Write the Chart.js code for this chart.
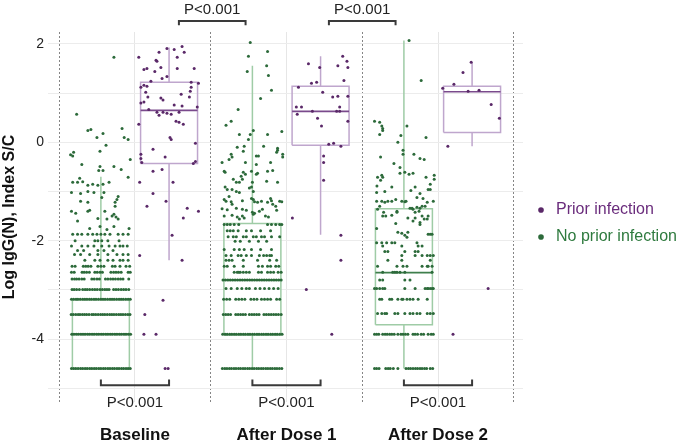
<!DOCTYPE html>
<html><head><meta charset="utf-8">
<script src="https://cdn.jsdelivr.net/npm/chart.js@4/dist/chart.umd.min.js"></script>
<style>html,body{margin:0;padding:0;background:#fff}canvas{display:block}</style>
</head><body>
<canvas id="c" width="681" height="441"></canvas>
<script>
// ---------- categories / ticks ----------
const groups = ['Baseline', 'After Dose 1', 'After Dose 2'];
const groupX = [1, 2, 3];
const groupBounds = [0.5, 1.5, 2.5, 3.5];
const yTickValues = [-5, -4, -3, -2, -1, 0, 1, 2];
const seriesNames = ['Prior infection', 'No prior infection'];

// ---------- box statistics (log IgG(N)) ----------
const noPriorLow    = [-4.6, -4.6, -4.6];
const noPriorQ1     = [-4.6, -3.92, -3.71];
const noPriorMedian = [-3.9, -2.8, -2.65];
const noPriorQ3     = [-3.2, -1.65, -1.35];
const noPriorHigh   = [-0.7, 1.56, 2.07];

const priorLow    = [-2.4, -1.88, -0.08];
const priorQ1     = [-0.43, -0.06, 0.2];
const priorMedian = [0.65, 0.63, 1.03];
const priorQ3     = [1.22, 1.14, 1.14];
const priorHigh   = [1.93, 1.75, 1.63];

// ---------- p-value comparisons ----------
const pTopPairs = [[1.29, 1.73], [2.28, 2.72]];
const pTopLabels = ['P<0.001', 'P<0.001'];
const pBottomPairs = [[0.775, 1.225], [1.775, 2.225], [2.775, 3.225]];
const pBottomLabels = ['P<0.001', 'P<0.001', 'P<0.001'];

// ---------- individual samples: [jitter (-1..1), value] ----------
const noPriorBaselinePts = [[0.43,1.73],[-0.8,0.57],[-0.43,0.24],[-0.33,0.26],[0.07,0.18],[-0.13,0.1],[0.7,0.28],[0.77,0.1],[0.9,0.06],[0.17,-0.06],[-0.9,-0.2],[-0.93,-0.28],[-1.0,-0.25],[-0.03,-0.18],[-0.63,-0.45],[-0.03,-0.49],[-0.07,-0.57],[0.07,-0.57],[0.43,-0.49],[0.67,-0.55],[0.97,-0.35],[0.9,-0.71],[-0.7,-0.73],[-0.93,-0.81],[-0.77,-0.81],[-0.6,-0.8],[-0.43,-0.87],[-0.27,-0.85],[-0.1,-0.87],[0.07,-0.85],[0.27,-0.81],[-0.97,-1.02],[-0.67,-1.04],[-0.43,-1.0],[-0.23,-1.02],[0.03,-1.12],[0.1,-1.02],[0.57,-1.1],[0.47,-1.22],[0.47,-1.3],[0.53,-1.16],[-0.67,-1.2],[-0.43,-1.22],[-0.97,-1.4],[-0.83,-1.44],[-0.43,-1.4],[-0.37,-1.38],[-0.1,-1.55],[0.13,-1.4],[0.37,-1.5],[0.57,-1.56],[0.43,-1.46],[0.5,-1.52],[-0.77,-1.6],[0.2,-1.56],[-0.37,-1.75],[-0.03,-1.71],[0.2,-1.77],[0.43,-1.71],[0.93,-1.75]];
const noPriorBaselineRows = [
  [-1.87, [-0.93,-0.77,-0.63,-0.43,-0.27,-0.13,0,0.13,0.3,0.57,0.73,0.9]],
  [-2.0,  [-0.85,-0.2,-0.1,0.03,0.23,0.6]],
  [-2.11, [-0.97,-0.63,-0.43,-0.23,0.03,0.27,0.47,0.63,0.73,0.87]],
  [-2.2,  [-0.77,-0.57,-0.1,0.1,0.4]],
  [-2.28, [-0.87,-0.67,-0.37,-0.1,0.23,0.53,0.73,0.9]],
  [-2.4,  [-0.53,-0.2,-0.03,0.23,0.4,0.63,0.73,0.9]],
  [-2.52, [-0.95,-0.85,-0.58,-0.5,-0.42,-0.33,-0.1,0,0.1,0.38,0.47,0.63,0.83,0.95]],
  [-2.64, [-0.97,-0.88,-0.62,-0.55,-0.47,-0.38,-0.2,-0.12,-0.03,0.05,0.33,0.42,0.5,0.58,0.67,0.9,0.97]],
  [-2.78, [-0.95,-0.87,-0.8,-0.72,-0.63,-0.55,-0.3,-0.22,-0.13,-0.05,0.15,0.23,0.32,0.4,0.48,0.57,0.65,0.73,0.92]],
  [-2.99, [-0.95,-0.88,-0.8,-0.71,-0.6,-0.52,-0.45,-0.37,-0.28,-0.2,-0.12,-0.03,0.05,0.13,0.2,0.27,0.42,0.5,0.58,0.67,0.75,0.83,0.92]],
  [-3.19, [-0.97,-0.9,-0.82,-0.76,-0.68,-0.6,-0.53,-0.46,-0.38,-0.31,-0.23,-0.16,-0.08,0,0.07,0.14,0.22,0.3,0.37,0.44,0.52,0.6,0.67,0.74,0.82,0.9,0.97]],
  [-3.5,  [-0.98,-0.91,-0.83,-0.75,-0.69,-0.61,-0.54,-0.47,-0.39,-0.3,-0.24,-0.17,-0.09,-0.01,0.06,0.13,0.21,0.29,0.36,0.43,0.51,0.59,0.66,0.73,0.81,0.89,0.96]],
  [-3.9,  [-0.96,-0.89,-0.81,-0.74,-0.66,-0.59,-0.52,-0.44,-0.37,-0.29,-0.22,-0.14,-0.07,0.01,0.08,0.16,0.23,0.31,0.38,0.46,0.53,0.61,0.68,0.76,0.83,0.91,0.98]],
  [-4.6,  [-0.97,-0.9,-0.83,-0.75,-0.67,-0.6,-0.52,-0.45,-0.37,-0.3,-0.22,-0.15,-0.07,0,0.08,0.15,0.23,0.3,0.38,0.45,0.53,0.6,0.68,0.75,0.83,0.9,0.97]]
];

const noPriorDose1Pts = [[-0.07,2.03],[-0.13,1.75],[0.5,1.85],[-0.17,1.44],[0.47,1.56],[0.53,1.36],[0.63,1.06],[0.27,0.89],[-0.47,0.67],[-0.87,0.35],[-0.7,0.43],[0.03,0.24],[-0.43,0.16],[0.5,0.16],[0.97,0.22],[-0.07,0.16],[-0.13,0.06],[-0.5,-0.1],[-0.27,-0.08],[-0.3,-0.18],[0.37,-0.08],[0.83,-0.12],[0.83,-0.16],[0.8,-0.2],[1.0,-0.24],[1.0,-0.3],[-0.7,-0.24],[-0.67,-0.3],[-0.77,-0.35],[-1.0,-0.41],[0.13,-0.28],[0.2,-0.28],[-0.23,-0.41],[0.6,-0.41],[0.13,-0.45],[-0.93,-0.59],[-0.9,-0.61],[-0.3,-0.61],[-0.23,-0.65],[-0.37,-0.69],[-0.33,-0.75],[-0.43,-0.81],[-0.03,-0.59],[0.13,-0.65],[0.17,-0.63],[0.5,-0.59],[0.67,-0.57],[-0.63,-0.75],[-0.53,-0.81],[0,-0.81],[-0.03,-0.91],[-0.1,-0.93],[0.03,-1.0],[-0.9,-0.91],[-0.83,-0.96],[-0.67,-0.96],[-0.53,-1.0],[-0.43,-1.02],[0.47,-0.79],[0.83,-0.81],[-0.93,-1.16],[-0.87,-1.2],[-0.77,-1.1],[-0.03,-1.14],[0.03,-1.16],[0.6,-1.14],[0.5,-1.22],[0.67,-1.26],[0.77,-1.3],[-0.67,-1.26],[-0.33,-1.36],[0.17,-1.22],[0.23,-1.4],[0.9,-1.2],[-0.5,-1.52],[-0.27,-1.54],[0,-1.42],[0.03,-1.46],[0.43,-1.5],[0.53,-1.52],[-0.7,-1.21],[-0.33,-1.19],[0.07,-1.21],[0.3,-1.2],[0.63,-1.19],[0.97,-1.21],[-1.0,-1.35],[-0.83,-1.37],[-0.53,-1.34],[-0.2,-1.38],[0.07,-1.44],[0.33,-1.36],[0.8,-1.38],[-0.93,-1.5],[-0.67,-1.48],[-0.43,-1.56],[-0.33,-1.5]];
const noPriorDose1Rows = [
  [-1.67, [-0.93,-0.83,-0.73,-0.6,-0.45,0.5,0.63,0.77,0.9,0.97]],
  [-1.8,  [-0.83,-0.73,-0.63,-0.47,-0.2,-0.03,0.27,0.6]],
  [-1.92, [-0.8,-0.63,-0.53,-0.3,-0.2,0.03,0.13,0.3,0.4,0.63,0.9]],
  [-2.01, [-0.57,-0.4,-0.1,0.2,0.47]],
  [-2.18, [-0.93,-0.6,-0.43,-0.27,-0.03,0.27,0.63]],
  [-2.3,  [-0.87,-0.7,-0.47,-0.37,-0.2,-0.03,0.23,0.37,0.47,0.57,0.63]],
  [-2.4,  [-0.87,-0.77,-0.67,-0.3,0.17,0.57,0.8]],
  [-2.52, [-0.93,-0.83,-0.6,-0.3,0.2,0.33,0.5,0.6,0.77,0.87]],
  [-2.64, [-0.6,-0.5,-0.45,-0.4,-0.3,-0.2,-0.1,0.2,0.3,0.5,0.6,0.7,0.85,0.95]],
  [-2.8,  [-0.97,-0.89,-0.81,-0.73,-0.65,-0.57,-0.49,-0.41,-0.33,-0.25,-0.17,-0.09,-0.01,0.07,0.15,0.23,0.31,0.39,0.47,0.55,0.63,0.71,0.79,0.87,0.95]],
  [-2.97, [-0.87,-0.7,-0.5,-0.35,-0.2,-0.1,0.1,0.25,0.4,0.55,0.7,0.85]],
  [-3.19, [-0.95,-0.85,-0.75,-0.55,-0.45,-0.35,-0.25,-0.05,0.05,0.15,0.3,0.4,0.5,0.6,0.8,0.9]],
  [-3.5,  [-0.96,-0.88,-0.8,-0.72,-0.55,-0.47,-0.39,-0.31,-0.23,-0.1,-0.02,0.06,0.14,0.22,0.38,0.46,0.54,0.62,0.7,0.78,0.86,0.95]],
  [-3.9,  [-0.98,-0.9,-0.83,-0.75,-0.68,-0.6,-0.53,-0.45,-0.38,-0.3,-0.23,-0.15,-0.08,0,0.07,0.15,0.22,0.3,0.37,0.45,0.52,0.6,0.67,0.75,0.82,0.9,0.98]],
  [-4.6,  [-0.99,-0.91,-0.84,-0.76,-0.69,-0.61,-0.54,-0.46,-0.39,-0.31,-0.24,-0.16,-0.09,-0.01,0.06,0.14,0.21,0.29,0.36,0.44,0.51,0.59,0.66,0.74,0.81,0.89,0.97]]
];

const noPriorDose2Pts = [[0.17,2.07],[0.57,1.26],[-0.97,0.43],[-0.8,0.41],[-0.73,0.33],[-0.7,0.28],[-0.7,0.24],[-0.8,0.16],[0.1,0.33],[-0.1,0.14],[0.73,0.1],[-0.2,0],[-0.03,-0.24],[-0.03,-0.16],[0.33,-0.24],[0.53,-0.33],[0.67,-0.35],[-0.77,-0.3],[-0.33,-0.43],[-0.13,-0.51],[-0.13,-0.63],[0.03,-0.61],[0.17,-0.65],[0.3,-0.63],[-0.73,-0.67],[-0.7,-0.71],[-0.77,-0.77],[-0.87,-0.71],[-0.89,-0.89],[0.73,-0.71],[1.0,-0.67],[1.0,-0.75],[0.87,-0.85],[-0.4,-0.91],[0.37,-0.91],[0.23,-0.98],[-0.63,-1.0],[0.8,-0.96],[0.87,-0.96],[-0.9,-1.02],[0.53,-1.04],[0.43,-1.12],[0.63,-1.14],[-0.27,-1.16],[-0.53,-1.2],[-0.73,-1.2],[-0.9,-1.2],[0.77,-1.22],[0.97,-1.2],[0.07,-1.2],[-0.23,-1.4],[0.2,-1.34],[0.27,-1.34],[0.43,-1.32],[0.53,-1.34],[0.7,-1.3],[-0.6,-1.5],[0.8,-1.5],[0.13,-1.54],[0.37,-1.54],[0.6,-1.5],[0.67,-1.56],[-0.8,-1.3],[-0.63,-1.22],[-0.4,-1.2],[-0.07,-1.2],[0.03,-1.21],[0.6,-1.3],[-0.87,-1.36],[-0.67,-1.42],[-0.23,-1.42],[0.3,-1.36],[0.37,-1.42],[0.5,-1.4],[-0.7,-1.5],[-0.4,-1.48],[0.3,-1.6],[0.53,-1.63],[0.53,-1.67],[0.77,-1.56],[-0.27,-1.65],[-0.9,-1.75],[-0.2,-1.83],[-0.07,-1.85],[0.03,-1.89],[0.13,-1.83],[0.1,-1.93]];
const noPriorDose2Rows = [
  [-1.87, [0.8,0.87,0.93]],
  [-2.04, [-0.9,-0.73,-0.57,-0.4,-0.3,0.43]],
  [-2.11, [-0.7,-0.07,0.47,0.6]],
  [-2.22, [-0.63,-0.53,0.03,0.37,0.47]],
  [-2.3,  [-0.07,0.37,0.6,0.77,0.87,0.97]],
  [-2.4,  [-0.53,-0.07,0.87]],
  [-2.52, [-0.87,-0.23,-0.03,0.1,0.6,0.77,0.8,0.93]],
  [-2.64, [-0.7,-0.37,-0.3,-0.23,-0.13,0.03,0.93]],
  [-2.8,  [-0.8,-0.7,0.03,0.2]],
  [-2.97, [-0.97,-0.9,-0.8,-0.7,-0.63,0.03,0.37,0.7,0.77,0.8,0.87,0.93,0.97]],
  [-3.19, [-0.8,-0.73,-0.47,-0.4,-0.2,-0.07,-0.03,0.1,0.2,0.3,0.47,0.77]],
  [-3.48, [-0.87,-0.73,-0.63,-0.57,-0.3,-0.2,0.03,0.2,0.3,0.43,0.53,0.77,0.87,0.97]],
  [-3.9,  [-0.97,-0.9,-0.83,-0.7,-0.62,-0.55,-0.47,-0.4,-0.32,-0.2,-0.1,-0.03,0.05,0.13,0.3,0.37,0.45,0.57,0.65,0.8,0.9,0.97]],
  [-4.6,  [-0.97,-0.9,-0.82,-0.6,-0.52,-0.45,-0.35,-0.2,0.07,0.15,0.22,0.3,0.38,0.45,0.53,0.6,0.68,0.75,0.87,0.95]]
];

const priorBaselinePts = [[-1.0,1.73],[-0.43,1.67],[-0.4,1.65],[-0.33,1.83],[-0.07,1.91],[0.17,1.89],[0.27,1.73],[0.43,1.95],[0.5,1.83],[-0.83,1.48],[-0.73,1.5],[-0.27,1.52],[-0.47,1.44],[0.27,1.5],[0.83,1.5],[-0.23,1.3],[-0.07,1.34],[-0.6,1.24],[-0.83,1.16],[-0.73,1.14],[-0.93,1.12],[0.73,1.22],[0.73,1.12],[0.7,1.04],[0.97,1.2],[0.4,0.98],[0.67,0.92],[-0.77,1.02],[-0.7,0.92],[-0.27,0.9],[-0.2,0.86],[-0.83,0.82],[-0.93,0.8],[0.17,0.76],[0.43,0.74],[0.93,0.72],[-0.67,0.67],[-0.4,0.61],[-0.2,0.61],[-0.33,0.55],[-0.07,0.59],[0.07,0.57],[0.33,0.61],[0.23,0.43],[0.33,0.41],[0.47,0.37],[-1.0,0.37],[0.03,0.1],[0.07,0.06],[0.87,-0.02],[-0.53,-0.14],[-0.93,-0.24],[-0.93,-0.33],[-0.13,-0.3],[-0.9,-0.41],[0.8,-0.43],[0.87,-0.39],[-0.53,-0.59],[-0.23,-0.55],[-0.97,-0.81],[0.13,-0.81],[-0.53,-1.04],[-0.1,-1.2],[-0.73,-1.3],[0.6,-1.34],[0.97,-1.4],[0.47,-1.54],[0.1,-1.89],[-0.97,-2.3],[0.43,-2.4],[-0.2,-3.21],[-0.8,-3.5],[-0.83,-3.9],[-0.43,-3.9],[-0.13,-4.6],[-0.03,-4.6]];
const priorDose1Pts = [[-0.4,1.6],[-0.03,1.52],[0.57,1.56],[0.73,1.75],[0.87,1.65],[0.9,1.52],[0.77,1.26],[-0.3,1.2],[-0.13,1.22],[-0.73,1.12],[0.07,1.02],[0.4,0.92],[0.57,0.94],[0.9,0.94],[-0.8,0.72],[-0.63,0.72],[0.63,0.72],[-0.27,0.63],[0.53,0.63],[0.63,0.63],[-0.77,0.57],[-0.1,0.49],[0.9,0.43],[0.03,0.33],[0.27,-0.04],[0.43,-0.02],[0.67,-0.08],[0.1,-0.28],[0.1,-0.41],[0.1,-0.77],[-0.93,-1.54],[0.67,-1.89],[0.67,-2.4],[-0.47,-2.99],[0.37,-3.9]];
const priorDose2Pts = [[-0.03,1.63],[-0.3,1.42],[-0.6,1.18],[-0.97,1.1],[-0.13,1.04],[0.23,1.06],[0.63,0.77],[0.9,0.49],[-0.8,-0.08],[0.53,-2.97],[-0.63,-3.9]];

// ---------- layout constants (styling, not data) ----------
const SERIES_OFFSET = 0.225, JITTER = 0.2, BOX_HALF = 0.188, LEGEND_SHIFT = -13;
const GREEN_DOT = '#2c6a3a', GREEN_BOX = '#9fcca6', GREEN_MED = '#3f7f4c';
const PURPLE_DOT = '#5a2868', PURPLE_BOX = '#bfa6cd', PURPLE_MED = '#7a4a8c';
const FONT = 'Arial, "Liberation Sans", sans-serif';

function jitterPoints(center, pts, rows) {
  const out = pts.map(([d, y]) => ({x: center + d * JITTER, y}));
  (rows || []).forEach(([y, ds]) => ds.forEach(d => out.push({x: center + d * JITTER, y})));
  return out;
}
function boxOutline(off, q1, q3, lo, hi) {
  const out = [];
  groupX.forEach((g, i) => {
    const c = g + off;
    out.push({x: c - BOX_HALF, y: q1[i]}, {x: c + BOX_HALF, y: q1[i]}, {x: c + BOX_HALF, y: q3[i]},
             {x: c - BOX_HALF, y: q3[i]}, {x: c - BOX_HALF, y: q1[i]}, {x: c, y: null},
             {x: c, y: q3[i]}, {x: c, y: hi[i]}, {x: c, y: null},
             {x: c, y: q1[i]}, {x: c, y: lo[i]}, {x: c, y: null});
  });
  return out;
}
function medianLines(off, med) {
  const out = [];
  groupX.forEach((g, i) => {
    const c = g + off;
    out.push({x: c - BOX_HALF, y: med[i]}, {x: c + BOX_HALF, y: med[i]}, {x: c, y: null});
  });
  return out;
}

const priorPoints = [].concat(
  jitterPoints(groupX[0] + SERIES_OFFSET, priorBaselinePts),
  jitterPoints(groupX[1] + SERIES_OFFSET, priorDose1Pts),
  jitterPoints(groupX[2] + SERIES_OFFSET, priorDose2Pts));
const noPriorPoints = [].concat(
  jitterPoints(groupX[0] - SERIES_OFFSET, noPriorBaselinePts, noPriorBaselineRows),
  jitterPoints(groupX[1] - SERIES_OFFSET, noPriorDose1Pts, noPriorDose1Rows),
  jitterPoints(groupX[2] - SERIES_OFFSET, noPriorDose2Pts, noPriorDose2Rows));

const lineDs = (data, color, w) => ({type: 'scatter', data, showLine: true, spanGaps: false,
  borderColor: color, borderWidth: w, pointRadius: 0, pointHoverRadius: 0, fill: false});

const annotations = {
  id: 'pvalues',
  afterLayout(chart) {
    // nudge the right-hand legend block upward
    if (chart.legend) { chart.legend.top += LEGEND_SHIFT; chart.legend.bottom += LEGEND_SHIFT; }
  },
  afterDraw(chart) {
    const xs = chart.scales.x, ys = chart.scales.y, ctx = chart.ctx;
    ctx.save();
    ctx.strokeStyle = '#3a3a3a'; ctx.lineWidth = 2; ctx.lineJoin = 'miter';
    ctx.fillStyle = '#222'; ctx.font = '15px ' + FONT;
    ctx.textAlign = 'center'; ctx.textBaseline = 'middle';
    const bracket = (a, b, yBar, yTick) => {
      ctx.beginPath();
      ctx.moveTo(xs.getPixelForValue(a), ys.getPixelForValue(yTick));
      ctx.lineTo(xs.getPixelForValue(a), ys.getPixelForValue(yBar));
      ctx.lineTo(xs.getPixelForValue(b), ys.getPixelForValue(yBar));
      ctx.lineTo(xs.getPixelForValue(b), ys.getPixelForValue(yTick));
      ctx.stroke();
    };
    pTopPairs.forEach(([a, b], i) => {
      bracket(a, b, 2.47, 2.38);
      ctx.fillText(pTopLabels[i], xs.getPixelForValue((a + b) / 2), ys.getPixelForValue(2.69));
    });
    pBottomPairs.forEach(([a, b], i) => {
      bracket(a, b, -4.94, -4.82);
      ctx.fillText(pBottomLabels[i], xs.getPixelForValue((a + b) / 2), ys.getPixelForValue(-5.3));
    });
    ctx.restore();
  }
};

new Chart(document.getElementById('c'), {
  type: 'scatter',
  data: {
    datasets: [
      {label: seriesNames[0], data: priorPoints, backgroundColor: PURPLE_DOT, borderWidth: 0, pointRadius: 1.5, pointHoverRadius: 1.5},
      {label: seriesNames[1], data: noPriorPoints, backgroundColor: GREEN_DOT, borderWidth: 0, pointRadius: 1.5, pointHoverRadius: 1.5},
      Object.assign(lineDs(medianLines(SERIES_OFFSET, priorMedian), PURPLE_MED, 1.6), {label: 'pm'}),
      Object.assign(lineDs(boxOutline(SERIES_OFFSET, priorQ1, priorQ3, priorLow, priorHigh), PURPLE_BOX, 1.5), {label: 'pb'}),
      Object.assign(lineDs(medianLines(-SERIES_OFFSET, noPriorMedian), GREEN_MED, 1.6), {label: 'nm'}),
      Object.assign(lineDs(boxOutline(-SERIES_OFFSET, noPriorQ1, noPriorQ3, noPriorLow, noPriorHigh), GREEN_BOX, 1.5), {label: 'nb'})
    ]
  },
  options: {
    responsive: false,
    animation: false,
    events: [],
    layout: {padding: {top: 32, right: 0, bottom: 0, left: 0}},
    scales: {
      x: {
        type: 'linear', position: 'bottom', min: 0.426, max: 3.561,
        afterBuildTicks: s => { s.ticks = groupX.map(v => ({value: v})); },
        afterFit: s => { s.height = 39; },
        ticks: {callback: v => groups[groupX.indexOf(v)] || '', color: '#111', padding: 23,
                font: {family: FONT, size: 17, weight: 'bold'}, maxRotation: 0, autoSkip: false},
        grid: {color: '#e6e6e6', drawTicks: false, lineWidth: 1},
        border: {display: false}
      },
      xb: {
        type: 'linear', position: 'bottom', min: 0.426, max: 3.561,
        afterBuildTicks: s => { s.ticks = groupBounds.map(v => ({value: v})); },
        afterFit: s => { s.height = 0; },
        ticks: {display: false},
        grid: {color: '#858585', drawTicks: false, lineWidth: 1},
        border: {display: false, dash: [2, 2]}
      },
      y: {
        type: 'linear', min: -5.28, max: 2.244,
        afterBuildTicks: s => { s.ticks = yTickValues.map(v => ({value: v})); },
        afterFit: s => { s.width = 48; },
        ticks: {callback: v => (v % 2 === 0 ? String(v) : ''), color: '#222', padding: 4,
                font: {family: FONT, size: 14}},
        grid: {color: '#ececec', drawTicks: false},
        border: {display: false},
        title: {display: true, text: 'Log IgG(N), Index S/C', color: '#111', padding: {top: 0, bottom: 0},
                font: {family: FONT, size: 16, weight: 'bold'}}
      }
    },
    plugins: {
      tooltip: {enabled: false},
      legend: {
        position: 'right', align: 'center', maxWidth: 158,
        labels: {
          usePointStyle: true, boxWidth: 14, boxHeight: 4, padding: 11,
          font: {family: FONT, size: 16},
          filter: item => item.datasetIndex < 2,
          generateLabels: chart => [0, 1].map(i => ({
            text: seriesNames[i], datasetIndex: i, hidden: false, lineWidth: 0,
            fillStyle: i === 0 ? PURPLE_DOT : GREEN_DOT, strokeStyle: i === 0 ? PURPLE_DOT : GREEN_DOT,
            fontColor: i === 0 ? '#6a2c7c' : '#2e7a3e', pointStyle: 'circle'
          }))
        }
      }
    }
  },
  plugins: [annotations]
});
</script>
</body></html>
